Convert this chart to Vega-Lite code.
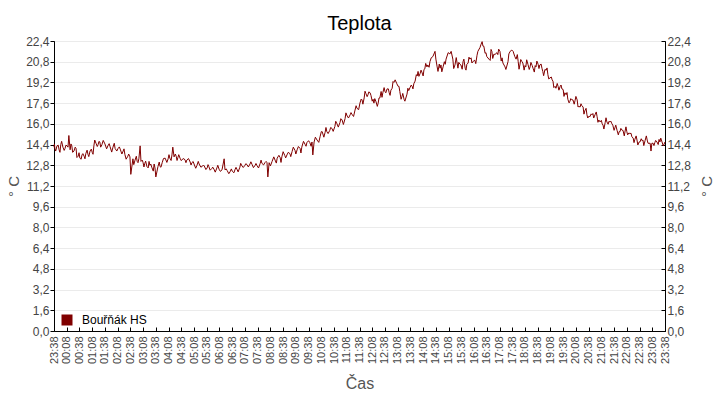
{
  "$schema": "https://vega.github.io/schema/vega-lite/v6.json",
  "width": 611,
  "height": 290,
  "autosize": "none",
  "padding": {"left": 54, "top": 41, "right": 55, "bottom": 69},
  "background": "white",
  "title": {"text": "Teplota", "fontSize": 20, "font": "Liberation Sans", "fontWeight": "normal", "color": "black", "anchor": "middle", "offset": 1},
  "config": {
    "view": {"stroke": "black", "strokeWidth": 1},
    "font": "Liberation Sans"
  },
  "data": {"values": [
{"m":0,"t":14.2},{"m":1,"t":14.45},{"m":2,"t":14.1},{"m":4,"t":13.9},{"m":7,"t":14.3},{"m":10,"t":14.35},{"m":12,"t":14.0},{"m":14,"t":13.8},{"m":16,"t":14.4},{"m":18,"t":14.65},{"m":21,"t":14.2},{"m":24,"t":13.95},{"m":26,"t":14.1},{"m":28,"t":14.35},{"m":31,"t":14.3},{"m":33,"t":14.2},{"m":35,"t":15.1},{"m":38,"t":14.0},{"m":40,"t":14.45},{"m":42,"t":14.3},{"m":44,"t":13.8},{"m":47,"t":13.9},{"m":50,"t":14.2},{"m":52,"t":14.1},{"m":54,"t":13.4},{"m":57,"t":13.5},{"m":59,"t":13.77},{"m":61,"t":13.35},{"m":64,"t":13.27},{"m":66,"t":13.6},{"m":68,"t":13.7},{"m":71,"t":13.5},{"m":73,"t":13.3},{"m":75,"t":13.7},{"m":78,"t":13.97},{"m":80,"t":13.65},{"m":82,"t":13.47},{"m":85,"t":13.9},{"m":88,"t":14.05},{"m":90,"t":13.8},{"m":92,"t":13.65},{"m":94,"t":14.3},{"m":96,"t":14.75},{"m":99,"t":14.5},{"m":102,"t":14.25},{"m":104,"t":14.4},{"m":106,"t":14.65},{"m":108,"t":14.6},{"m":110,"t":14.2},{"m":113,"t":14.4},{"m":116,"t":14.72},{"m":120,"t":14.45},{"m":124,"t":14.07},{"m":127,"t":14.3},{"m":130,"t":14.47},{"m":132,"t":14.25},{"m":136,"t":13.82},{"m":139,"t":14.2},{"m":142,"t":14.5},{"m":144,"t":14.1},{"m":148,"t":13.9},{"m":151,"t":14.1},{"m":154,"t":14.22},{"m":156,"t":14.05},{"m":160,"t":13.67},{"m":163,"t":13.9},{"m":165,"t":14.07},{"m":167,"t":13.65},{"m":170,"t":13.27},{"m":174,"t":13.5},{"m":176,"t":13.67},{"m":179,"t":13.45},{"m":181,"t":12.1},{"m":186,"t":13.3},{"m":188,"t":12.85},{"m":191,"t":13.2},{"m":194,"t":13.5},{"m":196,"t":13.1},{"m":198,"t":13.0},{"m":200,"t":13.3},{"m":203,"t":14.3},{"m":205,"t":13.1},{"m":208,"t":13.2},{"m":210,"t":13.0},{"m":212,"t":12.67},{"m":214,"t":12.95},{"m":216,"t":13.12},{"m":219,"t":12.7},{"m":222,"t":12.6},{"m":224,"t":13.1},{"m":226,"t":12.8},{"m":228,"t":12.9},{"m":231,"t":12.6},{"m":234,"t":12.35},{"m":236,"t":12.9},{"m":238,"t":12.6},{"m":240,"t":11.9},{"m":245,"t":12.7},{"m":248,"t":13.05},{"m":250,"t":12.7},{"m":252,"t":12.65},{"m":255,"t":13.0},{"m":258,"t":13.32},{"m":262,"t":13.35},{"m":266,"t":13.02},{"m":269,"t":13.3},{"m":271,"t":13.62},{"m":273,"t":13.35},{"m":276,"t":13.17},{"m":278,"t":13.6},{"m":280,"t":14.2},{"m":283,"t":13.45},{"m":286,"t":13.67},{"m":288,"t":13.5},{"m":290,"t":13.17},{"m":292,"t":13.4},{"m":294,"t":13.62},{"m":297,"t":13.35},{"m":300,"t":13.16},{"m":302,"t":13.25},{"m":306,"t":13.32},{"m":309,"t":13.2},{"m":311,"t":13.0},{"m":313,"t":13.2},{"m":317,"t":13.32},{"m":321,"t":13.05},{"m":323,"t":12.82},{"m":325,"t":13.0},{"m":328,"t":13.09},{"m":330,"t":12.9},{"m":334,"t":12.57},{"m":337,"t":12.8},{"m":340,"t":13.1},{"m":342,"t":12.9},{"m":346,"t":12.66},{"m":349,"t":12.7},{"m":352,"t":12.82},{"m":354,"t":12.75},{"m":358,"t":12.47},{"m":361,"t":12.6},{"m":363,"t":12.85},{"m":365,"t":12.7},{"m":368,"t":12.42},{"m":372,"t":12.55},{"m":374,"t":12.66},{"m":377,"t":12.5},{"m":380,"t":12.27},{"m":384,"t":12.6},{"m":386,"t":12.8},{"m":389,"t":12.5},{"m":392,"t":12.33},{"m":396,"t":12.45},{"m":401,"t":13.3},{"m":403,"t":12.45},{"m":406,"t":12.52},{"m":408,"t":12.4},{"m":412,"t":12.15},{"m":415,"t":12.3},{"m":418,"t":12.52},{"m":420,"t":12.35},{"m":424,"t":12.22},{"m":427,"t":12.5},{"m":429,"t":12.64},{"m":431,"t":12.5},{"m":434,"t":12.29},{"m":438,"t":12.65},{"m":440,"t":12.95},{"m":443,"t":12.75},{"m":446,"t":12.63},{"m":450,"t":12.8},{"m":452,"t":12.92},{"m":455,"t":12.85},{"m":458,"t":12.67},{"m":462,"t":12.9},{"m":464,"t":13.07},{"m":467,"t":12.85},{"m":470,"t":12.62},{"m":474,"t":12.8},{"m":476,"t":12.94},{"m":478,"t":12.8},{"m":482,"t":12.59},{"m":486,"t":12.95},{"m":488,"t":13.2},{"m":490,"t":12.95},{"m":494,"t":12.83},{"m":497,"t":13.0},{"m":500,"t":13.1},{"m":502,"t":13.0},{"m":504,"t":11.9},{"m":507,"t":13.0},{"m":510,"t":12.75},{"m":514,"t":13.1},{"m":518,"t":13.45},{"m":521,"t":13.2},{"m":524,"t":12.97},{"m":526,"t":13.35},{"m":530,"t":13.57},{"m":533,"t":13.4},{"m":535,"t":13.02},{"m":537,"t":13.45},{"m":540,"t":13.85},{"m":544,"t":13.55},{"m":546,"t":13.37},{"m":549,"t":13.6},{"m":552,"t":13.8},{"m":556,"t":13.7},{"m":558,"t":13.47},{"m":561,"t":13.85},{"m":564,"t":14.2},{"m":568,"t":13.95},{"m":570,"t":13.67},{"m":573,"t":14.0},{"m":576,"t":14.25},{"m":580,"t":14.1},{"m":582,"t":13.75},{"m":584,"t":14.2},{"m":588,"t":14.65},{"m":592,"t":14.4},{"m":594,"t":14.27},{"m":596,"t":14.55},{"m":600,"t":14.7},{"m":603,"t":14.55},{"m":606,"t":14.27},{"m":608,"t":14.6},{"m":610,"t":13.6},{"m":613,"t":14.6},{"m":616,"t":14.97},{"m":620,"t":14.75},{"m":624,"t":14.57},{"m":627,"t":15.0},{"m":630,"t":15.4},{"m":632,"t":15.4},{"m":636,"t":14.97},{"m":639,"t":15.35},{"m":641,"t":15.72},{"m":643,"t":15.4},{"m":646,"t":15.25},{"m":650,"t":15.5},{"m":652,"t":15.72},{"m":655,"t":15.65},{"m":658,"t":15.42},{"m":662,"t":15.8},{"m":664,"t":16.2},{"m":667,"t":16.0},{"m":670,"t":15.75},{"m":674,"t":16.1},{"m":676,"t":16.4},{"m":679,"t":16.3},{"m":682,"t":15.95},{"m":686,"t":16.4},{"m":688,"t":16.85},{"m":691,"t":16.6},{"m":694,"t":16.45},{"m":698,"t":16.7},{"m":700,"t":16.87},{"m":702,"t":16.75},{"m":706,"t":16.57},{"m":709,"t":17.0},{"m":712,"t":17.4},{"m":714,"t":17.2},{"m":718,"t":17.1},{"m":721,"t":17.6},{"m":724,"t":17.92},{"m":726,"t":17.85},{"m":728,"t":17.52},{"m":731,"t":18.0},{"m":733,"t":18.52},{"m":735,"t":18.35},{"m":738,"t":18.1},{"m":740,"t":18.25},{"m":742,"t":18.47},{"m":745,"t":18.4},{"m":747,"t":18.2},{"m":750,"t":17.75},{"m":752,"t":17.9},{"m":754,"t":17.6},{"m":756,"t":17.95},{"m":759,"t":17.7},{"m":762,"t":17.35},{"m":764,"t":17.6},{"m":766,"t":18.0},{"m":768,"t":18.0},{"m":771,"t":18.5},{"m":773,"t":18.05},{"m":775,"t":18.4},{"m":778,"t":18.8},{"m":780,"t":18.5},{"m":782,"t":18.4},{"m":785,"t":18.7},{"m":788,"t":18.7},{"m":790,"t":18.4},{"m":792,"t":18.2},{"m":794,"t":18.6},{"m":797,"t":18.75},{"m":799,"t":19.27},{"m":801,"t":19.2},{"m":804,"t":19.4},{"m":808,"t":19.1},{"m":811,"t":18.9},{"m":813,"t":18.9},{"m":815,"t":18.5},{"m":818,"t":17.9},{"m":820,"t":18.1},{"m":822,"t":18.35},{"m":825,"t":17.9},{"m":827,"t":17.75},{"m":832,"t":18.3},{"m":834,"t":18.75},{"m":836,"t":18.57},{"m":839,"t":18.8},{"m":842,"t":19.0},{"m":844,"t":18.9},{"m":846,"t":18.7},{"m":848,"t":19.1},{"m":851,"t":19.3},{"m":854,"t":19.8},{"m":856,"t":19.7},{"m":858,"t":20.05},{"m":860,"t":19.67},{"m":863,"t":19.9},{"m":865,"t":20.15},{"m":867,"t":20.0},{"m":870,"t":19.7},{"m":872,"t":20.2},{"m":874,"t":20.25},{"m":876,"t":20.67},{"m":879,"t":20.4},{"m":881,"t":20.55},{"m":884,"t":20.37},{"m":886,"t":20.8},{"m":889,"t":21.1},{"m":893,"t":21.2},{"m":898,"t":21.6},{"m":900,"t":21.0},{"m":903,"t":20.4},{"m":905,"t":20.05},{"m":908,"t":20.62},{"m":910,"t":20.3},{"m":912,"t":20.55},{"m":914,"t":20.02},{"m":917,"t":20.4},{"m":920,"t":20.8},{"m":922,"t":20.6},{"m":924,"t":21.0},{"m":929,"t":21.5},{"m":933,"t":21.4},{"m":936,"t":21.6},{"m":940,"t":21.0},{"m":942,"t":20.27},{"m":945,"t":20.55},{"m":948,"t":21.12},{"m":950,"t":20.7},{"m":952,"t":20.3},{"m":954,"t":20.75},{"m":957,"t":20.6},{"m":959,"t":20.55},{"m":962,"t":20.22},{"m":964,"t":20.8},{"m":966,"t":21.0},{"m":969,"t":20.3},{"m":971,"t":20.15},{"m":973,"t":20.6},{"m":976,"t":20.7},{"m":978,"t":21.15},{"m":980,"t":21.0},{"m":983,"t":21.1},{"m":985,"t":20.7},{"m":990,"t":20.9},{"m":992,"t":20.9},{"m":994,"t":20.65},{"m":997,"t":21.3},{"m":999,"t":21.6},{"m":1004,"t":21.9},{"m":1006,"t":22.1},{"m":1009,"t":22.35},{"m":1011,"t":22.0},{"m":1013,"t":22.0},{"m":1016,"t":21.45},{"m":1018,"t":21.5},{"m":1020,"t":21.2},{"m":1025,"t":21.0},{"m":1028,"t":20.9},{"m":1030,"t":21.75},{"m":1032,"t":21.6},{"m":1034,"t":21.05},{"m":1037,"t":21.4},{"m":1039,"t":21.35},{"m":1044,"t":21.5},{"m":1046,"t":21.35},{"m":1048,"t":21.77},{"m":1051,"t":21.6},{"m":1054,"t":20.85},{"m":1056,"t":21.1},{"m":1058,"t":20.7},{"m":1063,"t":20.4},{"m":1065,"t":20.2},{"m":1070,"t":20.8},{"m":1072,"t":21.4},{"m":1075,"t":21.6},{"m":1079,"t":21.7},{"m":1082,"t":21.6},{"m":1086,"t":21.2},{"m":1089,"t":21.0},{"m":1092,"t":21.35},{"m":1094,"t":20.8},{"m":1096,"t":20.22},{"m":1098,"t":20.55},{"m":1100,"t":20.97},{"m":1103,"t":20.8},{"m":1105,"t":20.7},{"m":1108,"t":20.15},{"m":1110,"t":20.5},{"m":1112,"t":20.4},{"m":1114,"t":20.95},{"m":1117,"t":20.6},{"m":1120,"t":20.2},{"m":1122,"t":20.4},{"m":1124,"t":20.75},{"m":1127,"t":20.5},{"m":1129,"t":20.3},{"m":1132,"t":20.0},{"m":1134,"t":20.5},{"m":1136,"t":20.4},{"m":1138,"t":20.85},{"m":1141,"t":20.6},{"m":1143,"t":20.27},{"m":1145,"t":20.55},{"m":1148,"t":20.62},{"m":1150,"t":20.3},{"m":1152,"t":20.05},{"m":1154,"t":19.72},{"m":1157,"t":20.2},{"m":1160,"t":20.15},{"m":1162,"t":20.32},{"m":1164,"t":19.8},{"m":1166,"t":19.47},{"m":1169,"t":19.55},{"m":1172,"t":19.62},{"m":1174,"t":19.4},{"m":1176,"t":19.3},{"m":1178,"t":18.8},{"m":1181,"t":18.9},{"m":1183,"t":18.75},{"m":1186,"t":19.12},{"m":1188,"t":18.9},{"m":1190,"t":18.6},{"m":1193,"t":18.9},{"m":1195,"t":19.0},{"m":1197,"t":18.7},{"m":1200,"t":18.65},{"m":1202,"t":18.12},{"m":1204,"t":18.4},{"m":1207,"t":18.25},{"m":1209,"t":18.42},{"m":1211,"t":17.9},{"m":1214,"t":17.62},{"m":1216,"t":17.75},{"m":1218,"t":17.95},{"m":1221,"t":17.85},{"m":1223,"t":17.85},{"m":1226,"t":17.52},{"m":1228,"t":17.8},{"m":1230,"t":18.12},{"m":1233,"t":17.85},{"m":1235,"t":17.3},{"m":1237,"t":17.35},{"m":1240,"t":17.3},{"m":1242,"t":17.55},{"m":1244,"t":17.4},{"m":1247,"t":17.3},{"m":1249,"t":16.75},{"m":1251,"t":17.0},{"m":1254,"t":17.2},{"m":1256,"t":16.7},{"m":1258,"t":16.45},{"m":1261,"t":16.6},{"m":1263,"t":16.55},{"m":1266,"t":16.77},{"m":1268,"t":16.7},{"m":1270,"t":16.8},{"m":1272,"t":16.45},{"m":1275,"t":16.7},{"m":1278,"t":16.92},{"m":1280,"t":16.55},{"m":1282,"t":16.12},{"m":1284,"t":16.3},{"m":1287,"t":16.15},{"m":1290,"t":16.27},{"m":1292,"t":16.0},{"m":1294,"t":15.9},{"m":1296,"t":15.6},{"m":1299,"t":16.1},{"m":1301,"t":16.47},{"m":1303,"t":16.15},{"m":1306,"t":15.97},{"m":1308,"t":16.2},{"m":1310,"t":16.15},{"m":1312,"t":16.22},{"m":1315,"t":16.0},{"m":1317,"t":15.9},{"m":1320,"t":15.5},{"m":1322,"t":15.7},{"m":1324,"t":15.9},{"m":1327,"t":15.5},{"m":1330,"t":15.15},{"m":1332,"t":15.4},{"m":1334,"t":15.4},{"m":1336,"t":15.65},{"m":1339,"t":15.5},{"m":1341,"t":15.5},{"m":1344,"t":15.07},{"m":1346,"t":15.45},{"m":1348,"t":15.77},{"m":1350,"t":15.4},{"m":1352,"t":15.15},{"m":1355,"t":15.3},{"m":1357,"t":15.25},{"m":1360,"t":15.27},{"m":1362,"t":15.0},{"m":1365,"t":14.9},{"m":1367,"t":14.55},{"m":1369,"t":14.8},{"m":1372,"t":15.07},{"m":1374,"t":14.75},{"m":1376,"t":14.37},{"m":1379,"t":14.6},{"m":1381,"t":14.6},{"m":1384,"t":14.85},{"m":1386,"t":14.7},{"m":1388,"t":14.75},{"m":1390,"t":14.32},{"m":1393,"t":14.7},{"m":1396,"t":15.07},{"m":1398,"t":14.75},{"m":1400,"t":14.5},{"m":1405,"t":14.5},{"m":1407,"t":13.9},{"m":1409,"t":14.5},{"m":1412,"t":14.5},{"m":1414,"t":14.32},{"m":1416,"t":14.55},{"m":1418,"t":14.72},{"m":1421,"t":14.6},{"m":1424,"t":14.4},{"m":1426,"t":14.8},{"m":1428,"t":14.6},{"m":1430,"t":14.9},{"m":1433,"t":14.6},{"m":1436,"t":14.3},{"m":1440,"t":14.6}
  ]},
  "encoding": {
    "x": {
      "field": "m", "type": "quantitative",
      "scale": {"domain": [0, 1440], "nice": false, "zero": false},
      "axis": {
        "title": "Čas",
        "values": [0,30,60,90,120,150,180,210,240,270,300,330,360,390,420,450,480,510,540,570,600,630,660,690,720,750,780,810,840,870,900,930,960,990,1020,1050,1080,1110,1140,1170,1200,1230,1260,1290,1320,1350,1380,1410,1440],
        "labelExpr": "timeFormat(datetime(2024, 0, 1, 23, 38 + datum.value), '%H:%M')",
        "labelAngle": 270,
        "labelFontSize": 11,
        "labelColor": "#444444",
        "labelFont": "Liberation Sans",
        "labelOverlap": false,
        "labelFlush": false,
        "labelBound": false,
        "labelPadding": 9,
        "tickSize": -4,
        "tickColor": "black",
        "domainColor": "black",
        "grid": false,
        "titleFontSize": 16,
        "titleFont": "Liberation Sans",
        "titleFontWeight": "normal",
        "titleColor": "#555555",
        "titlePadding": 12
      }
    }
  },
  "layer": [
    {
      "mark": {"type": "line", "strokeWidth": 1, "interpolate": "linear"},
      "encoding": {
        "y": {
          "field": "t", "type": "quantitative",
          "scale": {"domain": [0, 22.4], "nice": false, "zero": true},
          "axis": {
            "title": "° C",
            "orient": "left",
            "values": [0,1.6,3.2,4.8,6.4,8,9.6,11.2,12.8,14.4,16,17.6,19.2,20.8,22.4],
            "labelExpr": "replace(format(datum.value, '.1f'), '.', ',')",
            "labelFontSize": 12,
            "labelColor": "#444444",
            "labelFont": "Liberation Sans",
            "labelPadding": 1,
            "tickSize": 4,
            "tickColor": "black",
            "domainColor": "black",
            "grid": true,
            "gridColor": "#ebebeb",
            "titleFontSize": 15,
            "titleFont": "Liberation Sans",
            "titleFontWeight": "normal",
            "titleColor": "#555555",
            "titlePadding": 4
          }
        },
        "color": {
          "datum": "Bouřňák HS", "type": "nominal",
          "scale": {"range": ["#800000"]},
          "legend": {
            "title": null,
            "orient": "none",
            "legendX": 7,
            "legendY": 273,
            "symbolType": "square",
            "symbolSize": 121,
            "symbolStrokeWidth": 0,
            "labelFontSize": 12,
            "labelFont": "Liberation Sans",
            "labelColor": "black",
            "labelOffset": 9,
            "encode": {"symbols": {"update": {"fill": {"value": "#800000"}, "strokeWidth": {"value": 0}}}}
          }
        }
      }
    },
    {
      "mark": {"type": "line", "opacity": 0},
      "encoding": {
        "y": {
          "field": "t", "type": "quantitative",
          "scale": {"domain": [0, 22.4], "nice": false, "zero": true},
          "axis": {
            "title": "° C",
            "orient": "right",
            "titleAngle": 270,
            "titleX": 41,
            "titleY": 145,
            "titleAlign": "center",
            "titleBaseline": "middle",
            "values": [0,1.6,3.2,4.8,6.4,8,9.6,11.2,12.8,14.4,16,17.6,19.2,20.8,22.4],
            "labelExpr": "replace(format(datum.value, '.1f'), '.', ',')",
            "labelFontSize": 12,
            "labelColor": "#444444",
            "labelFont": "Liberation Sans",
            "labelPadding": 6,
            "tickSize": -4,
            "tickColor": "black",
            "domainColor": "black",
            "grid": false,
            "titleFontSize": 15,
            "titleFont": "Liberation Sans",
            "titleFontWeight": "normal",
            "titleColor": "#555555"
          }
        }
      }
    }
  ],
  "resolve": {"scale": {"y": "independent"}}
}
